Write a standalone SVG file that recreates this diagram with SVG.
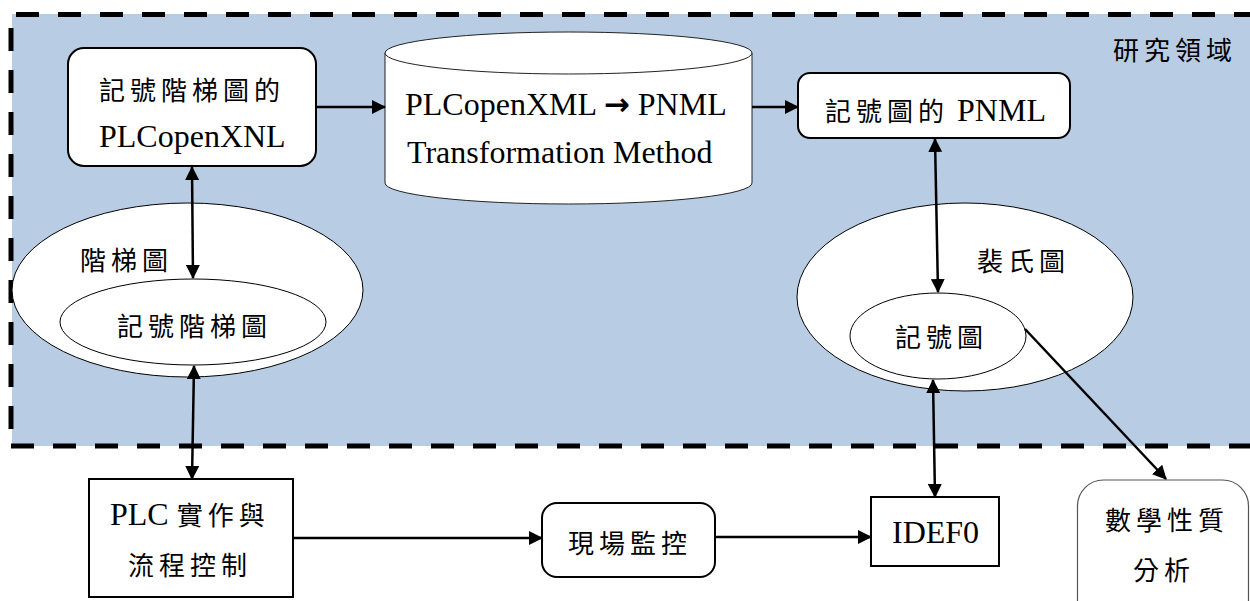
<svg xmlns="http://www.w3.org/2000/svg" width="1250" height="601" viewBox="0 0 1250 601">
<defs>
<style>
.bd{fill:none;stroke:#000;stroke-width:5;stroke-dasharray:23 19}
.box{fill:#fff;stroke:#000;stroke-width:2}
.thin{fill:#fff;stroke:#000;stroke-width:1}
.gray{fill:#fff;stroke:#555;stroke-width:1.2}
.lat{font-family:"Liberation Serif","Noto Sans CJK TC",serif;font-size:32px;fill:#000}
.cjk{font-family:"Noto Sans CJK TC","Noto Sans CJK SC",sans-serif;font-size:26px;letter-spacing:5px}
.c{fill:none;stroke:#000;stroke-width:2.5}
</style>
<marker id="ah" viewBox="0 0 14 14" refX="13" refY="7" markerWidth="14" markerHeight="14" markerUnits="userSpaceOnUse" orient="auto-start-reverse">
<path d="M0,0 L14,7 L0,14 Z" fill="#000"/>
</marker>
</defs>
<rect width="1250" height="601" fill="#fff"/>
<g id="region">
<rect x="12" y="14" width="1240" height="432" fill="#b8cce4"/>
<line class="bd" x1="16" y1="14.5" x2="1250" y2="14.5"/>
<line class="bd" x1="11" y1="28" x2="11" y2="446"/>
<line class="bd" x1="11" y1="446" x2="1250" y2="446"/>
<text class="lat" x="1113" y="60"><tspan class="cjk">研究領域</tspan></text>
</g>
<g id="n-plcopen">
<rect class="box" x="68" y="48" width="248" height="118" rx="16"/>
<text class="lat" x="99" y="100"><tspan class="cjk">記號階梯圖的</tspan></text>
<text class="lat" x="99" y="147">PLCopenXNL</text>
</g>
<g id="n-method">
<path d="M385,53 L385,183 A183.5,21 0 0 0 752,183 L752,53" fill="#fff" stroke="#222" stroke-width="1"/>
<ellipse cx="568.5" cy="53" rx="183.5" ry="21" fill="#fff" stroke="#222" stroke-width="1"/>
<text class="lat" x="405" y="115">PLCopenXML <tspan font-family="DejaVu Sans,sans-serif" font-weight="bold" font-size="31">→</tspan> PNML</text>
<text class="lat" x="407" y="163">Transformation Method</text>
</g>
<g id="n-pnml">
<rect class="box" x="798" y="73" width="272" height="65" rx="12"/>
<text class="lat" x="825" y="121"><tspan class="cjk">記號圖的</tspan> PNML</text>
</g>
<g id="n-ladder">
<ellipse class="thin" cx="187.5" cy="290" rx="175.5" ry="87"/>
<text class="lat" x="80" y="270"><tspan class="cjk">階梯圖</tspan></text>
<ellipse class="thin" cx="193" cy="322" rx="133" ry="43"/>
<text class="lat" x="117" y="336"><tspan class="cjk">記號階梯圖</tspan></text>
</g>
<g id="n-petri">
<ellipse class="thin" cx="965" cy="297" rx="168" ry="94"/>
<text class="lat" x="977" y="271"><tspan class="cjk">裴氏圖</tspan></text>
<ellipse class="thin" cx="938" cy="336" rx="88" ry="43"/>
<text class="lat" x="895" y="347"><tspan class="cjk">記號圖</tspan></text>
</g>
<g id="n-plc">
<rect class="box" x="89" y="479" width="204" height="118"/>
<text class="lat" x="110" y="525">PLC <tspan class="cjk">實作與</tspan></text>
<text class="lat" x="128" y="575"><tspan class="cjk">流程控制</tspan></text>
</g>
<g id="n-monitor">
<rect class="box" x="542" y="503" width="173" height="74" rx="15"/>
<text class="lat" x="568" y="553"><tspan class="cjk">現場監控</tspan></text>
</g>
<g id="n-idef0">
<rect class="box" x="871" y="497" width="128" height="69"/>
<text class="lat" x="892" y="543">IDEF0</text>
</g>
<g id="n-math">
<rect class="gray" x="1077.5" y="480" width="171" height="150" rx="26"/>
<text class="lat" x="1105" y="530"><tspan class="cjk">數學性質</tspan></text>
<text class="lat" x="1133" y="580"><tspan class="cjk">分析</tspan></text>
</g>
<g id="connectors">
<line class="c" x1="316" y1="107" x2="385" y2="107" marker-end="url(#ah)"/>
<line class="c" x1="752" y1="107" x2="798" y2="107" marker-end="url(#ah)"/>
<line class="c" x1="192" y1="167" x2="193" y2="278" marker-start="url(#ah)" marker-end="url(#ah)"/>
<line class="c" x1="194" y1="366" x2="192" y2="479" marker-start="url(#ah)" marker-end="url(#ah)"/>
<line class="c" x1="935" y1="139" x2="938" y2="292" marker-start="url(#ah)" marker-end="url(#ah)"/>
<line class="c" x1="933" y1="380" x2="935" y2="497" marker-start="url(#ah)" marker-end="url(#ah)"/>
<line class="c" x1="293" y1="538" x2="542" y2="538" marker-end="url(#ah)"/>
<line class="c" x1="715" y1="537" x2="871" y2="537" marker-end="url(#ah)"/>
<line class="c" x1="1025" y1="329" x2="1166" y2="479" marker-end="url(#ah)"/>
</g>
</svg>
